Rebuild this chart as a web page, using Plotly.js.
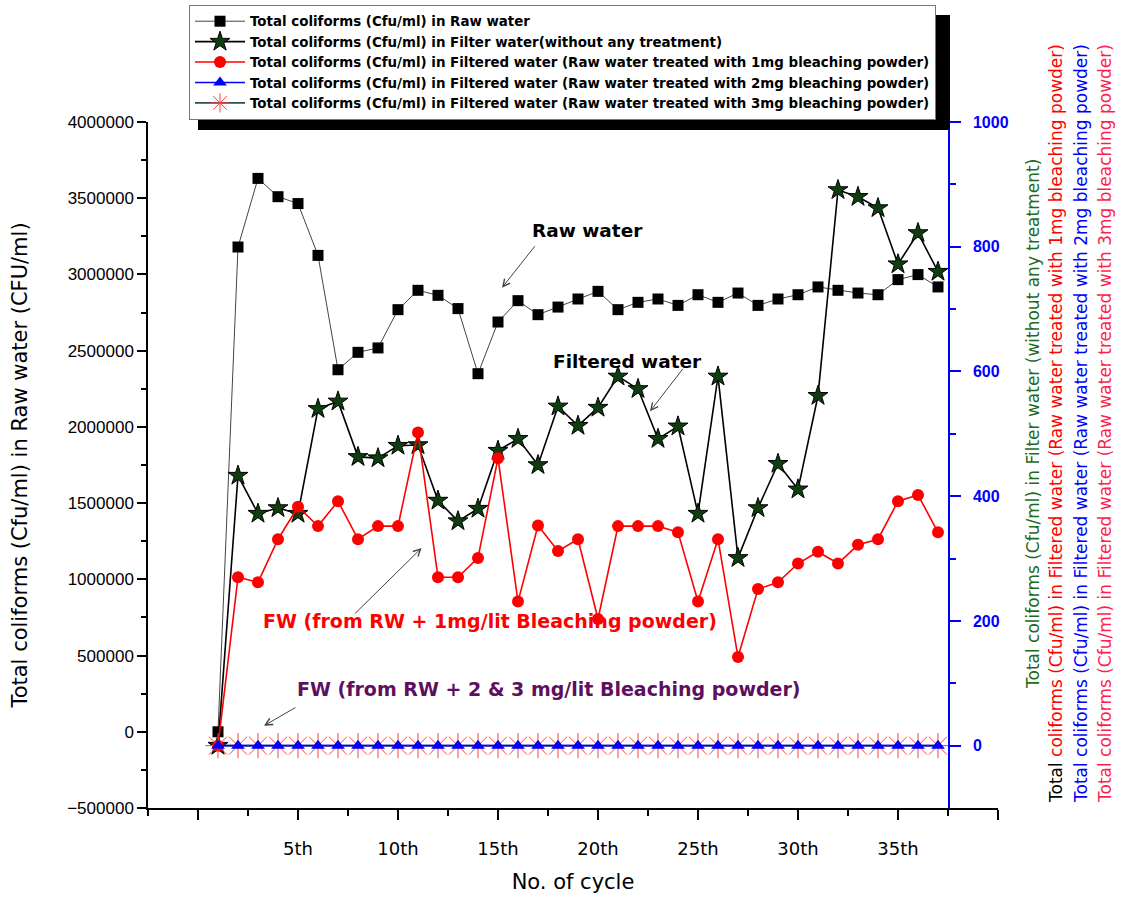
<!DOCTYPE html>
<html>
<head>
<meta charset="utf-8">
<script src="https://cdn.plot.ly/plotly-3.0.1.min.js"></script>
<style>html,body{margin:0;padding:0;background:#fff;}#chart{width:1121px;height:899px;}</style>
</head>
<body>
<div id="chart"></div>
<script>
const cycles = [1,2,3,4,5,6,7,8,9,10,11,12,13,14,15,16,17,18,19,20,21,22,23,24,25,26,27,28,29,30,31,32,33,34,35,36,37];
const rawWater = [0,3180000,3630000,3510000,3465000,3125000,2375000,2489000,2518000,2769000,2896000,2863000,2776000,2349000,2688000,2828000,2736000,2786000,2839000,2889000,2769000,2817000,2839000,2797000,2867000,2817000,2878000,2797000,2839000,2867000,2918000,2896000,2878000,2867000,2966000,2999000,2918000];
const filterWater = [0,433,372,381,372,540,552,463,461,481,482,393,360,380,473,492,450,544,513,542,592,572,492,512,372,592,301,381,452,411,561,891,880,862,772,822,760];
const treated1mg = [0,270,262,331,383,352,392,331,352,352,502,270,270,301,461,231,353,312,331,203,352,352,352,342,231,331,142,251,262,292,311,292,322,331,392,402,342];
const treated2mg = [0,0,0,0,0,0,0,0,0,0,0,0,0,0,0,0,0,0,0,0,0,0,0,0,0,0,0,0,0,0,0,0,0,0,0,0,0];
const treated3mg = [0,0,0,0,0,0,0,0,0,0,0,0,0,0,0,0,0,0,0,0,0,0,0,0,0,0,0,0,0,0,0,0,0,0,0,0,0];
const xTickVals = [0,5,10,15,20,25,30,35,40];
const xTickText = ['','5th','10th','15th','20th','25th','30th','35th',''];
const xMinorVals = [-2.5,2.5,7.5,12.5,17.5,22.5,27.5,32.5,37.5];
const y2TickVals = [0,200,400,600,800,1000];
const y2MinorVals = [100,300,500,700,900];
const seriesNames = [
  'Total coliforms (Cfu/ml) in Raw water',
  'Total coliforms (Cfu/ml) in Filter water(without any treatment)',
  'Total coliforms (Cfu/ml) in Filtered water (Raw water treated with 1mg bleaching powder)',
  'Total coliforms (Cfu/ml) in Filtered water (Raw water treated with 2mg bleaching powder)',
  'Total coliforms (Cfu/ml) in Filtered water (Raw water treated with 3mg bleaching powder)'
];
const rightTitles = [
  "<span style='color:#1d6b1d'>Total coliforms (Cfu/ml) in Filter water (without any treatment)</span>",
  "<span style='color:#000'>Total</span><span style='color:#ff0000'> coliforms (Cfu/ml) in Filtered water (Raw water treated with 1mg bleaching powder)</span>",
  "<span style='color:#0000ff'>Total coliforms (Cfu/ml) in Filtered water (Raw water treated with 2mg bleaching powder)</span>",
  "<span style='color:#ff1f4f'>Total coliforms (Cfu/ml) in Filtered water (Raw water treated with 3mg bleaching powder)</span>"
];

const FONT = 'Liberation Sans, Arial, sans-serif';
const WIDE = 'DejaVu Sans, Verdana, sans-serif';

const traces = [
  {x: cycles, y: rawWater, name: seriesNames[0], type: 'scatter', mode: 'lines+markers', yaxis: 'y',
   line: {color: '#444', width: 1}, marker: {symbol: 'square', size: 11, color: '#000'}, legendrank: 1},
  {x: cycles, y: filterWater, name: seriesNames[1], type: 'scatter', mode: 'lines+markers', yaxis: 'y2',
   line: {color: '#000', width: 1.6}, marker: {symbol: 'star', size: 15, color: '#0f3d0f', line: {color: '#000', width: 1}}, legendrank: 2},
  {x: cycles, y: treated1mg, name: seriesNames[2], type: 'scatter', mode: 'lines+markers', yaxis: 'y2',
   line: {color: '#ff0000', width: 1.6}, marker: {symbol: 'circle', size: 12, color: '#ff0000'}, legendrank: 3},
  {x: cycles, y: treated3mg, name: seriesNames[4], type: 'scatter', mode: 'lines+markers', yaxis: 'y2',
   line: {color: '#2f4f4f', width: 1.6}, marker: {symbol: 'asterisk-open', size: 21, color: '#ff4040', line: {color: '#ff4040', width: 1}}, legendrank: 5},
  {x: cycles, y: treated2mg, name: seriesNames[3], type: 'scatter', mode: 'lines+markers', yaxis: 'y2',
   line: {color: '#0000ff', width: 1.6}, marker: {symbol: 'triangle-up', size: 12, color: '#0000ff'}, legendrank: 4}
];

const W = 1121, H = 899, L = 148, R = 998, T = 122, B = 808;
const px = v => (v - L) / (R - L);
const py = v => (B - v) / (B - T);

const rightTitleX = [1033, 1056, 1081, 1105];
const rightAnnots = rightTitles.map((t, i) => ({
  text: t, xref: 'paper', yref: 'paper', x: px(rightTitleX[i]), y: py(424), xanchor: 'center', yanchor: 'middle',
  textangle: -90, showarrow: false, font: {family: WIDE, size: 17, color: '#000'}
}));

const layout = {
  width: W, height: H,
  margin: {l: L, r: W - R, t: T, b: H - B, pad: 0, autoexpand: false},
  paper_bgcolor: '#fff', plot_bgcolor: '#fff',
  font: {family: FONT, color: '#000'},
  showlegend: true,
  legend: {x: px(189), y: py(5), xanchor: 'left', yanchor: 'top', bgcolor: '#fff', bordercolor: '#777', borderwidth: 1,
           font: {family: WIDE, size: 13.4, weight: 'bold', color: '#000'}, itemwidth: 50, traceorder: 'normal'},
  xaxis: {range: [-2.5, 40], tickmode: 'array', tickvals: xTickVals, ticktext: xTickText, ticklabelstandoff: 14,
          showline: true, linecolor: '#000', linewidth: 1.5, ticks: 'outside', ticklen: 10, tickwidth: 1.5, tickcolor: '#000',
          minor: {tickmode: 'array', tickvals: xMinorVals, ticks: 'outside', ticklen: 6, tickwidth: 1.5, tickcolor: '#000', showgrid: false},
          showgrid: false, zeroline: false, tickfont: {family: WIDE, size: 18, color: '#000'},
          title: {text: 'No. of cycle', font: {family: WIDE, size: 21, color: '#000'}, standoff: 16}},
  yaxis: {range: [-500000, 4000000], tickmode: 'linear', tick0: 0, dtick: 500000, tickformat: 'd',
          showline: true, linecolor: '#000', linewidth: 1.5, ticks: 'outside', ticklen: 9, tickwidth: 1.5, tickcolor: '#000',
          minor: {dtick: 250000, tick0: 0, ticks: 'outside', ticklen: 5, tickwidth: 1.5, tickcolor: '#000', showgrid: false},
          showgrid: false, zeroline: false, tickfont: {family: FONT, size: 17, color: '#000'},
          title: {text: 'Total coliforms (Cfu/ml) in Raw water (CFU/ml)', font: {family: WIDE, size: 21, color: '#000'}, standoff: 34}},
  yaxis2: {overlaying: 'y', side: 'right', anchor: 'free', position: px(949), range: [-100, 1000],
           tickmode: 'array', tickvals: y2TickVals, ticklabelstandoff: 9,
           showline: true, linecolor: '#0000ff', linewidth: 1.5, ticks: 'outside', ticklen: 11, tickwidth: 1.5, tickcolor: '#0000ff',
           minor: {tickmode: 'array', tickvals: y2MinorVals, ticks: 'outside', ticklen: 6, tickwidth: 1.5, tickcolor: '#0000ff', showgrid: false},
           showgrid: false, zeroline: false, tickfont: {family: FONT, size: 16, weight: 'bold', color: '#0000ff'}},
  shapes: [
    {type: 'rect', xref: 'paper', yref: 'paper', x0: px(198), x1: px(950), y0: py(130), y1: py(15),
     fillcolor: '#000', line: {width: 0}, layer: 'above'}
  ],
  annotations: rightAnnots.concat([
    {text: '<b>Raw water</b>', xref: 'paper', yref: 'paper', x: px(587), y: py(218), showarrow: false,
     font: {family: WIDE, size: 18.5, color: '#000'}},
    {text: '', xref: 'x', yref: 'y', x: 15.2, y: 2913000, ax: 34, ay: -43, showarrow: true,
     arrowhead: 5, arrowsize: 1.4, arrowwidth: 1, arrowcolor: '#444'},
    {text: '<b>Filtered water</b>', xref: 'paper', yref: 'paper', x: px(627), y: py(349), showarrow: false,
     font: {family: WIDE, size: 18.5, color: '#000'}},
    {text: '', xref: 'x', yref: 'y2', x: 22.6, y: 536, ax: 34, ay: -44, showarrow: true,
     arrowhead: 5, arrowsize: 1.4, arrowwidth: 1, arrowcolor: '#444'},
    {text: '<b>FW (from RW + 1mg/lit Bleaching powder)</b>', xref: 'paper', yref: 'paper', x: px(490), y: py(634), showarrow: false,
     font: {family: WIDE, size: 19, color: '#ff0000'}},
    {text: '', xref: 'x', yref: 'y2', x: 11.18, y: 317, ax: -68, ay: 67, showarrow: true,
     arrowhead: 5, arrowsize: 1.4, arrowwidth: 1, arrowcolor: '#444'},
    {text: '<b>FW (from RW + 2 &amp; 3 mg/lit Bleaching powder)</b>', xref: 'paper', yref: 'paper', x: px(548), y: py(702), showarrow: false,
     font: {family: WIDE, size: 19, color: '#5e0f5e'}},
    {text: '', xref: 'x', yref: 'y2', x: 3.3, y: 32, ax: 33, ay: -19, showarrow: true,
     arrowhead: 5, arrowsize: 1.4, arrowwidth: 1, arrowcolor: '#444'}
  ])
};

Plotly.newPlot('chart', traces, layout, {displayModeBar: false, responsive: false});
</script>
</body>
</html>
